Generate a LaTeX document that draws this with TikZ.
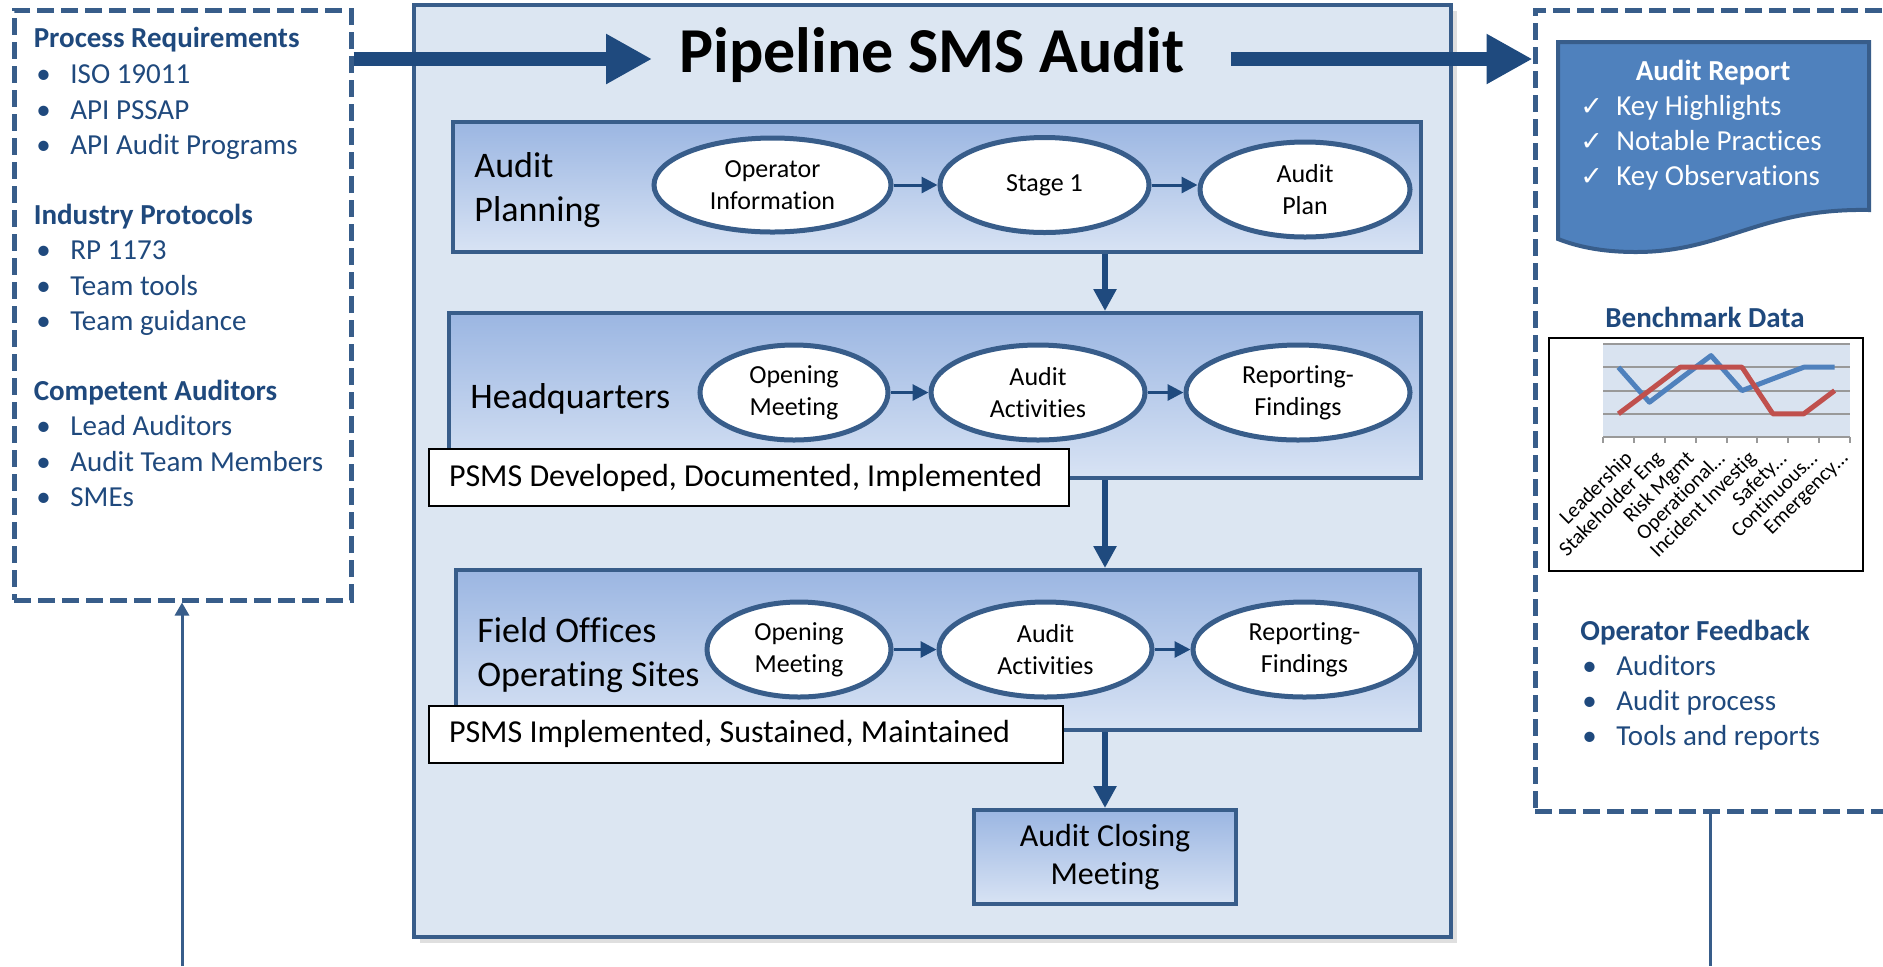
\documentclass[tikz,border=0pt]{standalone}
\usepackage{fontspec}
\setmainfont{Carlito}[Ligatures={NoCommon,NoContextual}]
\newfontfamily\symbolfont{DejaVu Sans}
\usetikzlibrary{shapes.geometric,arrows.meta,shadows}
\definecolor{textblue}{RGB}{31,73,125}
\definecolor{lineblue}{RGB}{56,93,138}
\definecolor{arrowblue}{RGB}{31,74,126}
\definecolor{panelfill}{RGB}{220,230,242}
\definecolor{bandtop}{RGB}{155,182,226}
\definecolor{bandbottom}{RGB}{216,227,244}
\definecolor{reportfill}{RGB}{79,129,189}
\definecolor{plotfill}{RGB}{217,227,240}
\definecolor{seriesblue}{RGB}{79,129,189}
\definecolor{seriesred}{RGB}{192,80,77}

\begin{document}
\begin{tikzpicture}[x=1pt, y=-1pt,
    dashbox/.style={draw=lineblue, line width=2.5pt, dash pattern=on 8.5pt off 3.5pt, inner sep=0pt},
    band/.style={draw=lineblue, line width=2pt, top color=bandtop, bottom color=bandbottom, inner sep=0pt},
    ellip/.style={ellipse, draw=lineblue, line width=2.5pt, fill=white, inner sep=0pt, align=center, font=\fontsize{13}{16}\selectfont},
    notebox/.style={draw=black, line width=1pt, fill=white, inner xsep=10pt, inner ysep=0pt, minimum height=28.5pt, font=\fontsize{16}{19}\selectfont},
    bandlabel/.style={anchor=west, inner sep=0pt, align=left, font=\fontsize{18}{22}\selectfont},
    head/.style={anchor=base west, inner sep=0pt, font=\bfseries\fontsize{14.5}{17.6}\selectfont, text=textblue},
    item/.style={anchor=base west, inner sep=0pt, font=\fontsize{14.5}{17.6}\selectfont, text=textblue},
    bigarrow/.style={draw=arrowblue, line width=7pt, -{Triangle[width=23.5pt,length=23pt]}},
    flow/.style={draw=arrowblue, line width=3pt, -{Triangle[width=11pt,length=11pt]}},
    linkarrow/.style={draw=arrowblue, line width=1.5pt, -{Triangle[width=8pt,length=8pt]}},
    loopline/.style={draw=lineblue, line width=1.5pt}]
  \useasboundingbox (0,0) rectangle (941.5,483);

  % inputs
  \node[dashbox, minimum width=168.5pt, minimum height=295pt] (inbox) at (91.25,152.5) {};
  \node[head] (reqhead) at (16.7,23.9) {Process Requirements};
  \foreach \t [count=\i] in {ISO 19011, API PSSAP, API Audit Programs} {
    \node[item] (reqdot\i) at (18,23.9+17.8*\i) {\textbullet};
    \node[item] (req\i) at (35,23.9+17.8*\i) {\t};
  }
  \node[head] (prothead) at (16.7,112) {Industry Protocols};
  \foreach \t [count=\i] in {RP 1173, Team tools, Team guidance} {
    \node[item] (protdot\i) at (18,112+17.8*\i) {\textbullet};
    \node[item] (prot\i) at (35,112+17.8*\i) {\t};
  }
  \node[head] (audhead) at (16.7,200) {Competent Auditors};
  \foreach \t [count=\i] in {Lead Auditors, Audit Team Members, SMEs} {
    \node[item] (auddot\i) at (18,200+17.8*\i) {\textbullet};
    \node[item] (aud\i) at (35,200+17.8*\i) {\t};
  }

  % audit panel
  \node[draw=lineblue, line width=2.25pt, fill=panelfill, minimum width=518.5pt, minimum height=466pt,
        drop shadow={opacity=0.25, shadow xshift=3pt, shadow yshift=-3pt}] (panel) at (466.25,235.5) {};
  \node[anchor=base, inner sep=0pt, font=\bfseries\fontsize{32}{36}\selectfont] (title) at (466,36) {Pipeline SMS Audit};

  \node[band, minimum width=484pt, minimum height=65pt] (planband) at (468.5,93.5) {};
  \node[bandlabel] (planlabel) at (237,95) {Audit\\Planning};
  \node[ellip, minimum width=118.5pt, minimum height=47pt] (opinfo) at (386.25,92.5) {Operator\\Information};
  \node[ellip, minimum width=104.5pt, minimum height=47.5pt] (stageone) at (522.25,92.5) {Stage 1};
  \node[ellip, minimum width=105pt, minimum height=47.5pt] (auditplan) at (652.5,94.75) {Audit\\Plan};
  \draw[linkarrow] (opinfo) -- (stageone);
  \draw[linkarrow] (stageone.east) -- (auditplan.west |- stageone.east);

  \node[band, minimum width=486pt, minimum height=82.5pt] (hqband) at (467.5,197.75) {};
  \node[bandlabel] (hqlabel) at (235,199.5) {Headquarters};
  \node[ellip, minimum width=94pt, minimum height=47.5pt] (hqopen) at (397,196.25) {Opening\\Meeting};
  \node[ellip, minimum width=107pt, minimum height=47.5pt] (hqact) at (519,196.25) {Audit\\Activities};
  \node[ellip, minimum width=112pt, minimum height=47.5pt] (hqrep) at (649,196.25) {Reporting-\\Findings};
  \draw[linkarrow] (hqopen) -- (hqact);
  \draw[linkarrow] (hqact) -- (hqrep);
  \node[notebox] (hqnote) at (374.5,238.75) {\makebox[300pt][l]{PSMS Developed, Documented, Implemented}};

  \node[band, minimum width=482pt, minimum height=80pt] (fieldband) at (469,325) {};
  \node[bandlabel] (fieldlabel) at (238.5,327.5) {Field Offices\\Operating Sites};
  \node[ellip, minimum width=92pt, minimum height=47.5pt] (fdopen) at (399.5,324.75) {Opening\\Meeting};
  \node[ellip, minimum width=106.5pt, minimum height=47.5pt] (fdact) at (522.75,324.75) {Audit\\Activities};
  \node[ellip, minimum width=111.5pt, minimum height=47.5pt] (fdrep) at (652.25,324.75) {Reporting-\\Findings};
  \draw[linkarrow] (fdopen) -- (fdact);
  \draw[linkarrow] (fdact) -- (fdrep);
  \node[notebox] (fdnote) at (373,367) {\makebox[297pt][l]{PSMS Implemented, Sustained, Maintained}};

  \node[band, minimum width=131pt, minimum height=47pt, align=center, font=\fontsize{16}{19}\selectfont] (closing) at (552.5,428.5) {Audit Closing\\Meeting};

  \draw[flow] (planband.south -| closing) -- (hqband.north -| closing);
  \draw[flow] (hqband.south -| closing) -- (fieldband.north -| closing);
  \draw[flow] (fieldband.south -| closing) -- (closing.north);

  % outputs
  \node[dashbox, minimum width=222.5pt, minimum height=400.5pt] (outbox) at (878.75,205.25) {};
  \coordinate (arrowrow) at (0,29.5);
  \draw[bigarrow, shorten >=13.5pt] (inbox.east |- arrowrow) -- (title.west |- arrowrow);
  \draw[bigarrow, shorten <=23pt] (title.east |- arrowrow) -- (outbox.west |- arrowrow);

  \draw[draw=lineblue, line width=2pt, fill=reportfill] (779,21) -- (934.5,21) -- (934.5,105)
    .. controls (880,104) and (862,126) .. (818,126) .. controls (800,126) and (788,123) .. (779,119.5) -- cycle;
  \node[anchor=base, inner sep=0pt, text=white, font=\bfseries\fontsize{14.5}{17.6}\selectfont] (rephead) at (856.5,40) {Audit Report};
  \foreach \t [count=\i] in {Key Highlights, Notable Practices, Key Observations} {
    \node[anchor=base west, inner sep=0pt, text=white, font=\symbolfont\bfseries\fontsize{13.5}{16}\selectfont] (repchk\i) at (790,40+17.6*\i) {✓};
    \node[item, text=white] (rep\i) at (808,40+17.6*\i) {\t};
  }

  \node[anchor=base, inner sep=0pt, text=textblue, font=\bfseries\fontsize{14.5}{17.6}\selectfont] (benchhead) at (852.5,163.5) {Benchmark Data};
  \node[draw=black, line width=0.75pt, fill=white, minimum width=157pt, minimum height=116.5pt, inner sep=0pt] (chart) at (853,227.25) {};
  \fill[plotfill] (801.5,172) rectangle (925,218.5);
  \foreach \v in {0,...,4}
    \draw[black!40, line width=1pt] (801.5,218.5-11.625*\v) -- (925,218.5-11.625*\v);
  \foreach \k in {0,...,8}
    \draw[black!40, line width=1pt] (801.5+15.44*\k,218.5) -- ++(0,3);
  \draw[seriesblue, line width=2.5pt, line join=round] plot coordinates {(809.2,183.6) (824.7,201.1) (840.1,189.4) (855.5,177.8) (871,195.3) (886.4,189.4) (901.9,183.6) (917.3,183.6)};
  \draw[seriesred, line width=2.5pt, line join=round] plot coordinates {(809.2,206.9) (824.7,195.3) (840.1,183.6) (855.5,183.6) (871,183.6) (886.4,206.9) (901.9,206.9) (917.3,195.3)};
  \foreach \lab [count=\i from 0] in {Leadership, Stakeholder Eng, Risk Mgmt, Operational\ldots, Incident Investig, Safety\ldots, Continuous\ldots, Emergency\ldots}
    \node[rotate=45, anchor=north east, inner sep=0pt, font=\fontsize{10.5}{12}\selectfont] (cat\i) at (811.5+15.44*\i,224.5) {\lab};

  \node[head] (fbhead) at (790,320) {Operator Feedback};
  \foreach \t [count=\i] in {Auditors, Audit process, Tools and reports} {
    \node[item] (fbdot\i) at (791,320+17.6*\i) {\textbullet};
    \node[item] (fb\i) at (808,320+17.6*\i) {\t};
  }

  % feedback loop
  \coordinate (loopin) at (91,483);
  \coordinate (loopout) at (855,483);
  \draw[loopline, -{Triangle[width=7pt,length=6.5pt]}] (loopin) -- (inbox.south -| loopin);
  \draw[loopline] (outbox.south -| loopout) -- (loopout);
\end{tikzpicture}
\end{document}
